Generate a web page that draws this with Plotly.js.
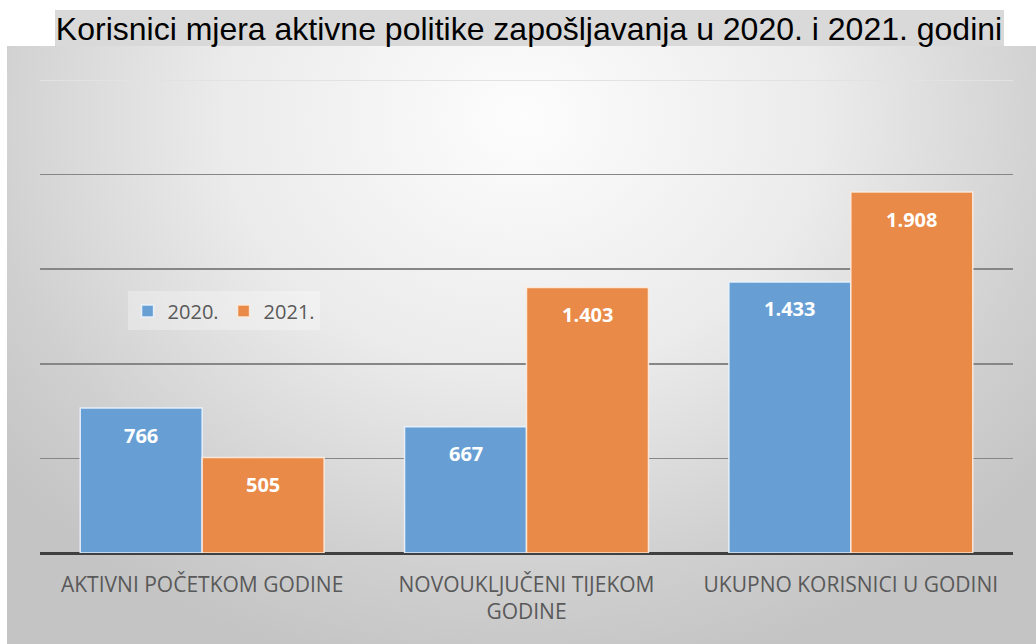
<!DOCTYPE html>
<html>
<head>
<meta charset="utf-8">
<script src="https://cdn.plot.ly/plotly-3.0.1.min.js"></script>
<style>
  html, body { margin: 0; padding: 0; background: #ffffff; }
  #wrap { position: relative; width: 1036px; height: 644px; overflow: hidden; }
  #bg { position: absolute; left: 7px; top: 46px; width: 1029px; height: 598px;
        background: radial-gradient(ellipse 65% 95% at 50% 12%, #fdfdfd 0%, #ebebeb 45%, #d0d0d0 80%, #c4c4c4 100%); }
  #chart { position: absolute; left: 0; top: 0; width: 1036px; height: 644px; }
</style>
</head>
<body>
<div id="wrap">
  <div id="bg"></div>
  <div id="chart"></div>
</div>
<script>
const categories = ['AKTIVNI POČETKOM GODINE', 'NOVOUKLJUČENI TIJEKOM<br>GODINE', 'UKUPNO KORISNICI U GODINI'];
const seriesNames = ['2020.', '2021.'];
const values2020 = [766, 667, 1433];
const values2021 = [505, 1403, 1908];
const labels2020 = ['766', '667', '1.433'];
const labels2021 = ['505', '1.403', '1.908'];
const gridValues = [500, 1000, 1500, 2000];
const topValue = 2500;

const blue = '#679fd5';
const orange = '#e98a48';

const traces = [
  { type: 'bar', name: seriesNames[0], x: categories, y: values2020,
    marker: { color: blue, line: { color: 'rgba(235,244,252,0.9)', width: 1.5 } }, hoverinfo: 'skip' },
  { type: 'bar', name: seriesNames[1], x: categories, y: values2021,
    marker: { color: orange, line: { color: 'rgba(252,236,224,0.9)', width: 1.5 } }, hoverinfo: 'skip' }
];

const annotations = [];
const labelFont = { family: 'Open Sans, sans-serif', size: 20, color: '#ffffff', weight: 'bold' };
categories.forEach((c, i) => {
  annotations.push({ x: c, y: values2020[i], xref: 'x', yref: 'y', text: '<b>' + labels2020[i] + '</b>',
    showarrow: false, xshift: -61, yshift: -27, yanchor: 'middle', font: labelFont });
  annotations.push({ x: c, y: values2021[i], xref: 'x', yref: 'y', text: '<b>' + labels2021[i] + '</b>',
    showarrow: false, xshift: 61, yshift: -27, yanchor: 'middle', font: labelFont });
});

const layout = {
  width: 1036, height: 644,
  margin: { l: 40, r: 23, t: 80, b: 91 },
  paper_bgcolor: 'rgba(0,0,0,0)',
  plot_bgcolor: 'rgba(0,0,0,0)',
  title: { text: 'Korisnici mjera aktivne politike zapošljavanja u 2020. i 2021. godini',
    font: { family: 'Liberation Sans, Arial, sans-serif', size: 32, color: '#000000' },
    x: (529 - 40) / 973, xref: 'paper', xanchor: 'center', y: 1 - 29 / 644, yref: 'container', yanchor: 'middle' },
  barmode: 'group', bargap: 0.248, bargroupgap: 0,
  showlegend: true,
  legend: { orientation: 'h', x: 0.09, y: 0.553, xanchor: 'left', yanchor: 'top',
    bgcolor: 'rgba(255,255,255,0.3)', borderwidth: 0,
    font: { family: 'Open Sans, sans-serif', size: 20, color: '#595959' } },
  xaxis: { type: 'category', showgrid: false, showline: false, ticks: '', zeroline: false,
    ticklabelstandoff: 17,
    tickfont: { family: 'Open Sans, sans-serif', size: 21, color: '#595959' } },
  yaxis: { range: [0, topValue], tickmode: 'array', tickvals: gridValues, showticklabels: false,
    showgrid: true, gridcolor: '#868686', gridwidth: 1.5,
    zeroline: true, zerolinecolor: '#404040', zerolinewidth: 3, showline: false, fixedrange: true },
  shapes: [
    { type: 'rect', xref: 'paper', yref: 'paper', x0: (55 - 40) / 973, x1: (1004 - 40) / 973,
      y0: (553 - 46) / 473, y1: (553 - 10) / 473, fillcolor: '#d9d9d9', line: { width: 0 }, layer: 'below' },
    { type: 'line', xref: 'paper', yref: 'y', x0: 0, x1: 1, y0: topValue, y1: topValue,
      line: { color: '#e2e2e2', width: 2 }, layer: 'below' }
  ],
  annotations: annotations
};

Plotly.newPlot('chart', traces, layout, { displayModeBar: false, staticPlot: true });
</script>
</body>
</html>
